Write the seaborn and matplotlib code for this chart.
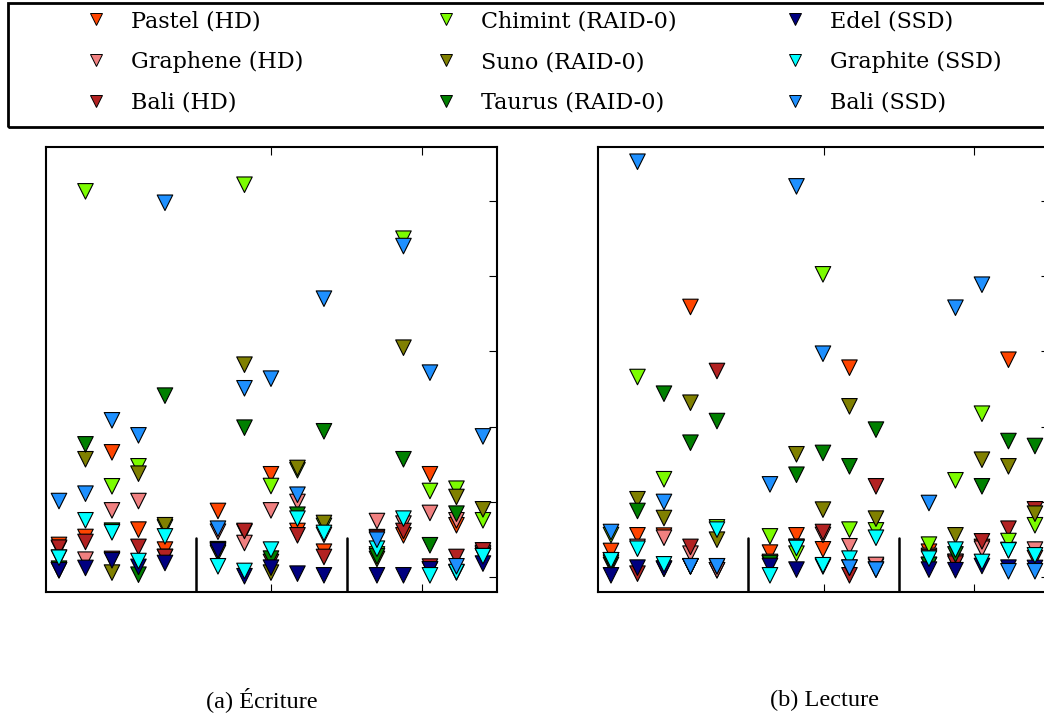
import pandas as pd
import matplotlib.pyplot as plt
import seaborn as sns
from matplotlib.lines import Line2D
from matplotlib.patches import Rectangle

machines = ['Pastel (HD)', 'Graphene (HD)', 'Bali (HD)',
            'Chimint (RAID-0)', 'Suno (RAID-0)', 'Taurus (RAID-0)',
            'Edel (SSD)', 'Graphite (SSD)', 'Bali (SSD)']
colors = ['#ff4500', '#f08080', '#b22222',
          '#7cfc00', '#808000', '#008000',
          '#000080', '#00ffff', '#1e90ff']

# 3 groups of 5 runs, one empty slot between groups
slots = [g * 6 + i for g in range(3) for i in range(5)]

# (a) Ecriture
w_pastel = [21.3, 26.6, 82.9, 31.5, 18.2, 43.9, 30, 68.3, 30.6, 16.8, 26.5, 27.7, 68.3, 34.4, 15]
w_graphene = [19, 11.5, 44.3, 50.5, 13.3, 30.1, 22.6, 44.3, 49.9, 28, 37.2, 35.5, 42.6, 37.7, 16]
w_bali_hd = [19.5, 23.3, 12, 20, 13.3, 18, 30.6, 10, 27.7, 13.3, 26, 30.6, 6.9, 13.3, 17.7]
w_chimint = [12.8, 256.5, 60.3, 73.6, 33, 17, 260.9, 60.5, 71, 34, 15, 225, 57.2, 58.7, 37.7]
w_suno = [4.5, 78.3, 2.9, 68.7, 34.4, 16, 141.2, 2.9, 72.5, 35.9, 12, 152.5, 5, 53.2, 45]
w_taurus = [5.5, 88.2, 30.8, 1.5, 120.6, 18.5, 99.3, 12.2, 41.4, 96.9, 13.8, 78.3, 21.1, 42.1, 13.8]
w_edel = [4.5, 6, 11.1, 6.7, 9.3, 17.7, 0.5, 6.2, 2.2, 1.1, 1.1, 1.1, 5.1, 3, 8.9]
w_graphite = [12.8, 37.7, 29.7, 10.6, 27, 7.1, 4, 18.2, 38.8, 29.3, 18.8, 38.8, 1.1, 3.3, 13.8]
w_bali_ssd = [50.5, 55.4, 104.2, 94.2, 248.9, 32.1, 125.5, 131.9, 54.7, 185.1, 24.8, 220.1, 135.9, 7.1, 93.5]

# (b) Lecture
r_pastel = [17.3, 27.7, 27.5, 179.6, 4.5, 16.2, 27.7, 18.4, 139.2, 7, 16.8, 10, 20, 144.5, 12.6]
r_graphene = [11.1, 20, 26.1, 15.5, 4.5, 10, 20, 28, 20.4, 8, 14, 10, 18.8, 18, 18.2]
r_bali_hd = [11.1, 2.2, 5.5, 20, 137, 9, 20, 29.9, 1.1, 60.3, 13, 8.9, 23.7, 32.1, 45]
r_chimint = [27.9, 133, 65, 7.1, 33, 27, 15.5, 201.3, 31.5, 31, 21.5, 64.3, 108.6, 23.9, 34.4]
r_suno = [8, 51.7, 39.2, 115.9, 24.8, 9, 81.6, 44.8, 113.5, 38.8, 8, 27.7, 78, 73.6, 42.1]
r_taurus = [9.5, 43.9, 121.9, 89.3, 103.7, 9.3, 68, 82.5, 73.6, 98, 8, 15, 60.3, 90.4, 87.1]
r_edel = [1.1, 6.2, 5.5, 7.1, 7.1, 7.3, 4.9, 7, 6.2, 4.9, 4.9, 4.5, 7.3, 6.2, 6]
r_graphite = [11.1, 18.8, 8.4, 7.1, 31.5, 1.1, 19.3, 7.8, 12.2, 26.1, 12.2, 18.2, 10, 17.7, 14.4]
r_bali_ssd = [29.9, 276.2, 49.9, 7.1, 7.1, 61.6, 259.8, 148.5, 6.2, 4.9, 49.2, 179.1, 194.4, 3.8, 3.8]

ecriture = [w_pastel, w_graphene, w_bali_hd, w_chimint, w_suno, w_taurus, w_edel, w_graphite, w_bali_ssd]
lecture = [r_pastel, r_graphene, r_bali_hd, r_chimint, r_suno, r_taurus, r_edel, r_graphite, r_bali_ssd]


def long_form(series):
    rows = []
    for name, vals in zip(machines, series):
        for s, v in zip(slots, vals):
            rows.append((name, s, v))
    return pd.DataFrame(rows, columns=['machine', 'slot', 'time'])


sns.set_style('white', {'axes.edgecolor': 'black', 'text.color': 'black'})

W, H = 1044, 714
fig = plt.figure(figsize=(W / 100, H / 100), dpi=100)

lo, hi = -0.49, 16.53
third = (hi - lo) / 3

for left, series in [(46, ecriture), (598, lecture)]:
    ax = fig.add_axes([left / W, (H - 592) / H, 451 / W, 445 / H])
    sns.scatterplot(data=long_form(series), x='slot', y='time', hue='machine',
                    hue_order=machines, palette=colors, marker='v', s=125,
                    edgecolor='black', linewidth=0.8, legend=False, ax=ax, zorder=3)
    ax.set_xlim(lo, hi)
    ax.set_ylim(-10, 286)
    ax.set_xlabel('')
    ax.set_ylabel('')
    ax.set_xticks([lo + 1.5 * third, lo + 2.5 * third])
    ax.set_yticks(range(0, 251, 50))
    ax.tick_params(direction='in', length=6, width=0.8, color='black',
                   left=False, right=True, top=True, bottom=True,
                   labelleft=False, labelbottom=False)
    for sp in ax.spines.values():
        sp.set_linewidth(1.5)
    for k in (1, 2):
        ax.axvline(lo + k * third, ymin=0, ymax=0.121, color='black', lw=1.8)

# legend: three columns, one shared frame
fs = 16
em = fs * 100 / 72
for c, mx in enumerate([96, 446, 795]):
    idx = range(3 * c, 3 * c + 3)
    handles = [Line2D([], [], ls='', marker='v', ms=9, mfc=colors[i],
                      mec='black', mew=0.7) for i in idx]
    fig.legend(handles, [machines[i] for i in idx], loc='center left',
               bbox_to_anchor=((mx - em / 2) / W, 1 - 62 / H), frameon=False,
               handlelength=1.0, handletextpad=35 / em - 0.5, borderpad=0,
               borderaxespad=0, labelspacing=0.85,
               prop={'family': 'DejaVu Serif', 'size': fs}, labelcolor='black')
fig.add_artist(Rectangle((8 / W, (H - 127) / H), 1052 / W, 124 / H,
                         transform=fig.transFigure, fill=False, lw=2, ec='black'))

fig.text(262 / W, 1 - 700 / H, '(a) Écriture', ha='center', va='center',
         family='Liberation Serif', size=17.5, color='black')
fig.text(825 / W, 1 - 700 / H, '(b) Lecture', ha='center', va='center',
         family='Liberation Serif', size=17.5, color='black')

fig.savefig('out.png', dpi=100)
